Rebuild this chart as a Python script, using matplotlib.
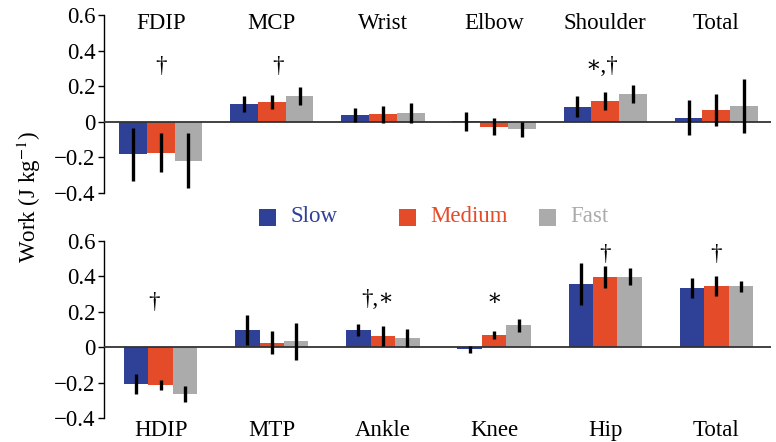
import matplotlib
matplotlib.use("Agg")
import matplotlib.pyplot as plt
import numpy as np
from matplotlib.patches import Rectangle

plt.rcParams['font.family'] = ['Liberation Serif', 'DejaVu Serif']
plt.rcParams['mathtext.fontset'] = 'stix'

speeds = ["Slow", "Medium", "Fast"]
colors = ["#2F4197", "#E44B29", "#ABABAB"]

upper_joints = ["FDIP", "MCP", "Wrist", "Elbow", "Shoulder", "Total"]
upper_slow = [-0.183, 0.100, 0.038, 0.002, 0.083, 0.022]
upper_medium = [-0.174, 0.111, 0.043, -0.028, 0.116, 0.066]
upper_fast = [-0.219, 0.144, 0.049, -0.043, 0.156, 0.088]
upper_slow_err = [0.150, 0.045, 0.040, 0.054, 0.059, 0.098]
upper_medium_err = [0.110, 0.040, 0.048, 0.047, 0.053, 0.092]
upper_fast_err = [0.156, 0.050, 0.054, 0.044, 0.052, 0.152]
upper_marks = ["\u2020", "\u2020", "", "", "\u2217,\u2020", ""]
upper_mark_y = [0.31, 0.31, 0, 0, 0.31, 0]
upper_mark_dx = [0.0, 0.06, 0, 0, -0.03, 0]

lower_joints = ["HDIP", "MTP", "Ankle", "Knee", "Hip", "Total"]
lower_slow = [-0.207, 0.096, 0.096, -0.011, 0.356, 0.333]
lower_medium = [-0.213, 0.026, 0.062, 0.068, 0.397, 0.344]
lower_fast = [-0.263, 0.034, 0.053, 0.124, 0.397, 0.344]
lower_slow_err = [0.056, 0.085, 0.033, 0.020, 0.120, 0.058]
lower_medium_err = [0.026, 0.066, 0.057, 0.024, 0.061, 0.055]
lower_fast_err = [0.047, 0.105, 0.050, 0.038, 0.047, 0.030]
lower_marks = ["\u2020", "", "\u2020,\u2217", "\u2217", "\u2020", "\u2020"]
lower_mark_y = [0.25, 0, 0.27, 0.27, 0.52, 0.52]
lower_mark_dx = [-0.06, 0, -0.05, 0.0, 0.0, 0.0]

yticks = [-0.4, -0.2, 0, 0.2, 0.4, 0.6]
yticklabels = ["\u22120.4", "\u22120.2", "0", "0.2", "0.4", "0.6"]

FS = 16.5

fig = plt.figure(figsize=(7.76, 4.42), dpi=100)
ax1 = fig.add_axes([0.134, 0.5638, 0.860, 0.4022])
ax2 = fig.add_axes([0.134, 0.0536, 0.860, 0.4018])


def draw(ax, joints, vals, errs, width, marks, mark_y, mark_dx, label_y):
    x = np.arange(len(joints))
    for i, (v, e, c) in enumerate(zip(vals, errs, colors)):
        xs = x + (i - 1) * width
        ax.bar(xs, v, width=width, color=c, edgecolor='none', zorder=2)
        ax.errorbar(xs, v, yerr=e, fmt='none', ecolor='black', elinewidth=2.4,
                    capsize=0, zorder=4)
    ax.axhline(0, color='#333333', lw=1.3, zorder=3)
    ax.set_xlim(-0.51, 5.495)
    ax.set_ylim(-0.4, 0.6)
    ax.set_yticks(yticks)
    ax.set_yticklabels(yticklabels, fontsize=FS)
    ax.set_xticks([])
    for s in ['top', 'right', 'bottom']:
        ax.spines[s].set_visible(False)
    ax.spines['left'].set_linewidth(1.0)
    ax.tick_params(axis='y', length=4, width=1.0, pad=2)
    for j, name in enumerate(joints):
        ax.text(j, label_y, name, ha='center', va='center', fontsize=FS,
                clip_on=False)
    for j, m in enumerate(marks):
        if m:
            ax.text(j + mark_dx[j], mark_y[j], m, ha='center', va='center',
                    fontsize=FS, clip_on=False,
                    family=['Liberation Serif', 'DejaVu Serif'])


draw(ax1, upper_joints, [upper_slow, upper_medium, upper_fast],
     [upper_slow_err, upper_medium_err, upper_fast_err], 0.25,
     upper_marks, upper_mark_y, upper_mark_dx, 0.555)
draw(ax2, lower_joints, [lower_slow, lower_medium, lower_fast],
     [lower_slow_err, lower_medium_err, lower_fast_err], 0.22,
     lower_marks, lower_mark_y, lower_mark_dx, -0.468)

fig.text(0.037, 0.555, "Work (J kg$^{-1}$)", rotation=90, ha='center',
         va='center', fontsize=FS)

# legend: coloured squares and coloured labels in equal-width columns
W, H = 776.0, 442.0
box_x = [259, 399, 539]
for bx, name, c in zip(box_x, speeds, colors):
    fig.patches.append(Rectangle((bx / W, 1 - 226 / H), 17 / W, 17 / H,
                                 transform=fig.transFigure, facecolor=c,
                                 edgecolor='none'))
    fig.text((bx + 31) / W, 1 - 217 / H, name, color=c, ha='left',
             va='center', fontsize=FS)

fig.savefig("out.png", dpi=100)
